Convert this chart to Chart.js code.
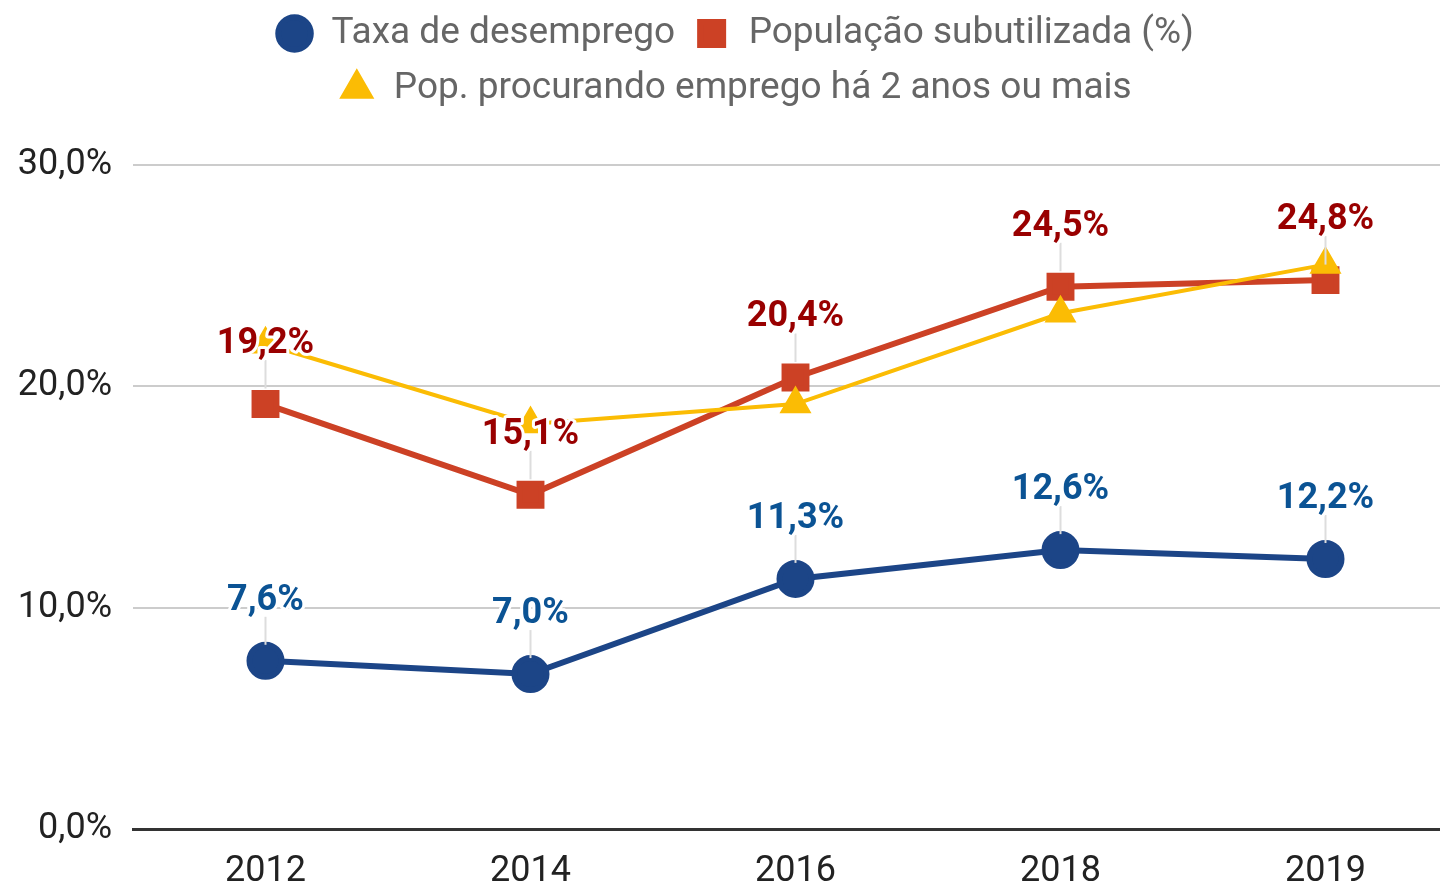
<!DOCTYPE html>
<html>
<head>
<meta charset="utf-8">
<script src="https://cdn.jsdelivr.net/npm/chart.js@4/dist/chart.umd.min.js"></script>
<style>
  html, body { margin: 0; padding: 0; background: #fff; overflow: hidden; }
  #wrap { width: 1482px; height: 887px; }
</style>
</head>
<body>
<div id="wrap"><canvas id="chart"></canvas></div>
<script>
const years = ["2012", "2014", "2016", "2018", "2019"];
const desemprego = [7.6, 7.0, 11.3, 12.6, 12.2];
const subutilizada = [19.2, 15.1, 20.4, 24.5, 24.8];
const procurando = [21.9, 18.3, 19.2, 23.3, 25.5];
const yTicks = [0, 10, 20, 30];

function pct(v) {
    return v.toFixed(1).replace(".", ",") + "%";
}

// labels above points with a thin leader line
const pointLabels = {
    id: "pointLabels",
    afterDatasetsDraw(chart) {
        let ctx = chart.ctx;
        chart.data.datasets.forEach((ds, i) => {
            if (!ds.labelColor) return;
            let meta = chart.getDatasetMeta(i);
            meta.data.forEach((pt, j) => {
                let ly = pt.y - 60;
                ctx.save();
                ctx.strokeStyle = "#dddddd";
                ctx.lineWidth = 2;
                ctx.beginPath();
                ctx.moveTo(pt.x, pt.y - ds.pointRadius);
                ctx.lineTo(pt.x, ly + 16);
                ctx.stroke();
                ctx.font = "bold 36px Roboto";
                ctx.textAlign = "center";
                ctx.textBaseline = "middle";
                ctx.lineJoin = "round";
                ctx.lineWidth = 6;
                ctx.strokeStyle = "#ffffff";
                ctx.strokeText(pct(ds.data[j]), pt.x, ly);
                ctx.fillStyle = ds.labelColor;
                ctx.fillText(pct(ds.data[j]), pt.x, ly);
                ctx.restore();
            });
        });
    },
    beforeDraw(chart) {
        let lg = chart.legend;
        let h = lg.bottom - lg.top;
        lg.top = -3;
        lg.bottom = lg.top + h;
    }
};

new Chart(document.getElementById("chart"), {
    type: "line",
    data: {
        labels: years,
        datasets: [{
            label: "Taxa de desemprego",
            data: desemprego,
            borderColor: "#1c4587",
            backgroundColor: "#1c4587",
            borderWidth: 6,
            pointStyle: "circle",
            pointRadius: 16,
            labelColor: "#0b5394",
            order: 1
        }, {
            label: "População subutilizada (%)",
            data: subutilizada,
            borderColor: "#cc4125",
            backgroundColor: "#cc4125",
            borderWidth: 6,
            pointStyle: "rect",
            pointRadius: 15.5,
            labelColor: "#990000",
            order: 2
        }, {
            label: "Pop. procurando emprego há 2 anos ou mais",
            data: procurando,
            borderColor: "#fbbc04",
            backgroundColor: "#fbbc04",
            borderWidth: 4,
            pointStyle: "triangle",
            pointRadius: 14.5,
            order: 0
        }]
    },
    options: {
        responsive: true,
        maintainAspectRatio: false,
        animation: false,
        layout: { padding: { left: 12, right: 24, top: 45, bottom: 0 } },
        plugins: {
            tooltip: { enabled: false },
            legend: {
                position: "top",
                labels: {
                    usePointStyle: true,
                    boxHeight: 23,
                    padding: 18,
                    color: "#666666",
                    font: { family: "Roboto", size: 37 },
                    sort: (a, b) => a.datasetIndex - b.datasetIndex
                }
            }
        },
        scales: {
            x: {
                offset: true,
                grid: { display: false, drawTicks: false },
                border: { display: true, color: "#333333", width: 3 },
                ticks: {
                    color: "#222222",
                    padding: 21,
                    font: { family: "Roboto", size: 36 }
                },
                afterFit(scale) { scale.height = 58; }
            },
            y: {
                min: 0,
                max: 30,
                afterBuildTicks(scale) {
                    scale.ticks = yTicks.map(v => ({ value: v }));
                },
                grid: { color: "#cccccc", lineWidth: 2, drawTicks: false },
                border: { display: false },
                ticks: {
                    color: "#222222",
                    padding: 21,
                    font: { family: "Roboto", size: 36 },
                    callback: v => pct(v)
                },
                afterFit(scale) { scale.width = 121; }
            }
        }
    },
    plugins: [pointLabels]
});
</script>
</body>
</html>
